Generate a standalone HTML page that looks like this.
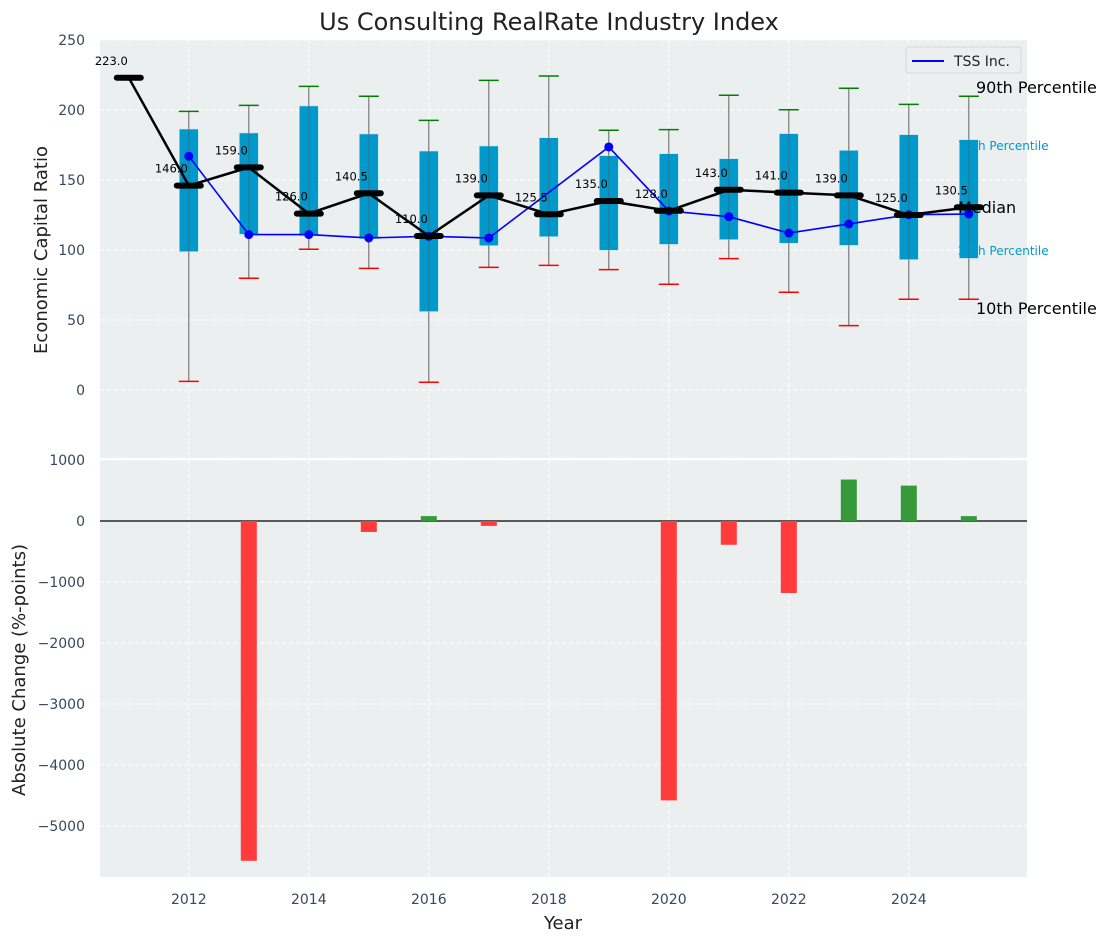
<!DOCTYPE html>
<html><head><meta charset="utf-8"><style>
body{margin:0;background:#fff;}
svg text{font-family:"DejaVu Sans","Liberation Sans",sans-serif;}
</style></head><body>
<svg id="c" width="1111" height="942" xmlns="http://www.w3.org/2000/svg"></svg>
<script>
const years=[2011,2012,2013,2014,2015,2016,2017,2018,2019,2020,2021,2022,2023,2024,2025];
const medians=[223,146,159,126,140.5,110,139,125.5,135,128,143,141,139,125,130.5];
const p25=[null,98.8,111.2,110.2,108.1,56,103.1,109.5,99.8,104,107.4,104.8,103.3,93.1,94];
const p75=[null,186.4,183.6,202.9,182.9,170.7,174.3,180.2,167.4,168.8,165.2,183.1,171.2,182.4,178.8];
const p10=[null,6.2,79.8,100.5,86.9,5.5,87.6,89,86,75.5,93.8,69.8,46,64.8,64.8];
const p90=[null,199,203.3,216.9,209.8,192.6,221.2,224.3,185.5,186,210.5,200.2,215.5,204,209.8];
const tss=[null,167,111,111,108.6,109.8,108.6,null,173.6,127.9,123.8,112.1,118.6,125.2,125.7];
const changes=[0,0,-5570,0,-180,80,-80,0,0,-4580,-390,-1180,680,580,80];
const topTicks=[0,50,100,150,200,250];
const botTicks=[-5000,-4000,-3000,-2000,-1000,0,1000];
const xTicks=[2012,2014,2016,2018,2020,2022,2024];

const NS="http://www.w3.org/2000/svg";
const svg=document.getElementById('c');
function mk(tag,attrs,parent){const e=document.createElementNS(NS,tag);for(const k in attrs)e.setAttribute(k,attrs[k]);(parent||svg).appendChild(e);return e;}
const L=100,R=1027;
const X=v=>L+(v-2010.52)*(R-L)/(2025.97-2010.52);
const Y1=v=>390-v*1.4;
const Y2=v=>521-v*0.061;
// backgrounds
let bg1=mk('rect',{x:L,y:40,width:R-L,height:418,fill:'#ebeff0'});


let bg2=mk('rect',{x:L,y:460,width:R-L,height:417,fill:'#ebeff0'});


// grid
xTicks.forEach(t=>{
  [[40,458],[460,877]].forEach(r=>{let g=mk('line',{x1:X(t),x2:X(t),y1:r[0],y2:r[1],stroke:'#fff','stroke-dasharray':'4,3','stroke-width':1});});
  let tx=mk('text',{x:X(t),y:904,'font-size':14,fill:'#34495e','text-anchor':'middle'});tx.textContent=t;
  
  
});
topTicks.forEach(t=>{
  let g=mk('line',{x1:L,x2:R,y1:Y1(t),y2:Y1(t),stroke:'#fff','stroke-dasharray':'4,3','stroke-width':1});
  
  
  let tx=mk('text',{x:85,y:Y1(t)+5,'font-size':14,fill:'#34495e','text-anchor':'end'});tx.textContent=t;
  
  
});
botTicks.forEach(t=>{
  let g=mk('line',{x1:L,x2:R,y1:Y2(t),y2:Y2(t),stroke:'#fff','stroke-dasharray':'4,3','stroke-width':1});
  
  
  let tx=mk('text',{x:85,y:Y2(t)+5,'font-size':14,fill:'#34495e','text-anchor':'end'});tx.textContent=t<0?'\u2212'+(-t):t;
  
  
});
// boxes & whiskers
years.forEach((y,i)=>{
  if(p25[i]===null)return;
  const x=X(y);
  let w=mk('line',{x1:x,x2:x,y1:Y1(p90[i]),y2:Y1(p10[i]),stroke:'#888','stroke-width':1});
  
  
  let b=mk('rect',{x:x-9.5,y:Y1(p75[i]),width:19,height:Y1(p25[i])-Y1(p75[i]),fill:'#0099cc',stroke:'#bfe6f2','stroke-width':0.6});
  
  
  let w2=mk('line',{x1:x,x2:x,y1:Y1(p90[i]),y2:Y1(p10[i]),stroke:'#555','stroke-opacity':0.5,'stroke-width':1});
  
  
  let c1=mk('line',{x1:x-10,x2:x+10,y1:Y1(p90[i]),y2:Y1(p90[i]),stroke:'green','stroke-width':1.5});
  
  
  let c2=mk('line',{x1:x-10,x2:x+10,y1:Y1(p10[i]),y2:Y1(p10[i]),stroke:'red','stroke-width':1.5});
  
  
});
// TSS line
let pts=[];years.forEach((y,i)=>{if(tss[i]!==null)pts.push(X(y)+','+Y1(tss[i]));});
let tl=mk('polyline',{points:pts.join(' '),fill:'none',stroke:'#0000ff','stroke-width':1.6});


years.forEach((y,i)=>{if(tss[i]===null)return;
  let c=mk('circle',{cx:X(y),cy:Y1(tss[i]),r:4.5,fill:'#0000ff'});
  
  
});
// median line
let mp=years.map((y,i)=>X(y)+','+Y1(medians[i])).join(' ');
let ml=mk('polyline',{points:mp,fill:'none',stroke:'#000','stroke-width':2.5});


years.forEach((y,i)=>{
  const x=X(y),yy=Y1(medians[i]);
  let m=mk('line',{x1:x-12,x2:x+12,y1:yy,y2:yy,stroke:'#000','stroke-width':6,'stroke-linecap':'round'});
  
  
  let t=mk('text',{x:x-1,y:yy-13,'font-size':11.5,fill:'#000','text-anchor':'end'});t.textContent=medians[i].toFixed(1);
  
  
});
// bars
let zl=mk('line',{x1:L,x2:R,y1:Y2(0),y2:Y2(0),stroke:'#000','stroke-width':1.2});


years.forEach((y,i)=>{
  const v=changes[i];if(v===0)return;
  const y0=Y2(0),y1=Y2(v);
  let r=mk('rect',{x:X(y)-8,y:Math.min(y0,y1),width:16,height:Math.abs(y1-y0),fill:v<0?'#ff3b3b':'#36993a'});
  
  
});
// annotations
function txt(s,x,y,sz,fill,name,anchor){let t=mk('text',{x:x,y:y,'font-size':sz,fill:fill,'text-anchor':anchor||'start'});t.textContent=s;return t;}
txt('90th Percentile',976,93,16,'#000','p90-annotation');
txt('75th Percentile',958,150,12,'#0099cc','p75-annotation');
txt('Median',958,213,16,'#000','median-annotation');
txt('25th Percentile',958,255,12,'#0099cc','p25-annotation');
txt('10th Percentile',976,314,16,'#000','p10-annotation');
// legend
let lg=mk('g',{});


mk('rect',{x:906,y:47,width:115,height:26,rx:3,fill:'#ebeff0',stroke:'#d5d8dc'},lg);
mk('line',{x1:912,x2:944,y1:61,y2:61,stroke:'#0000ff','stroke-width':2},lg);
let lt=mk('text',{x:954,y:66,'font-size':14,fill:'#222'},lg);lt.textContent='TSS Inc.';


// titles
txt('Us Consulting RealRate Industry Index',549,30,24,'#222','chart-title','middle');
txt('Year',563,929,18,'#222','x-axis-title','middle');
let yt1=txt('Economic Capital Ratio',0,0,18,'#222','top-y-axis-title','middle');yt1.setAttribute('transform','translate(47,250) rotate(-90)');
let yt2=txt('Absolute Change (%-points)',0,0,18,'#222','bottom-y-axis-title','middle');yt2.setAttribute('transform','translate(25,670) rotate(-90)');
</script>
</body></html>
